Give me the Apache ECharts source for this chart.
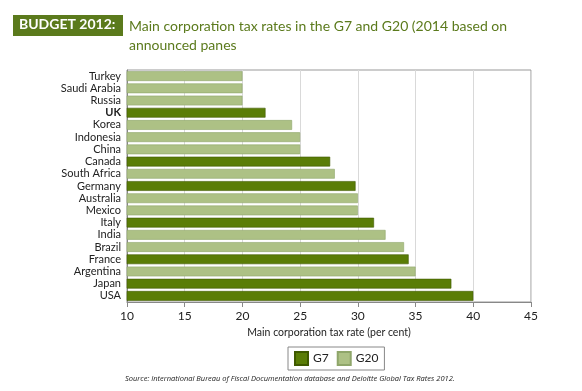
<!DOCTYPE html>
<html><head><meta charset="utf-8">
<script src="https://cdn.jsdelivr.net/npm/echarts@6/dist/echarts.min.js"></script>
<style>html,body{margin:0;padding:0;background:#fff}#c{width:582px;height:391px}</style>
</head><body><div id="c"></div>
<script>
const categories = ['Turkey','Saudi Arabia','Russia','UK','Korea','Indonesia','China','Canada','South Africa','Germany','Australia','Mexico','Italy','India','Brazil','France','Argentina','Japan','USA'];
const g7Values  = [null,null,null,22,null,null,null,27.6,null,29.8,null,null,31.4,null,null,34.4,null,38.1,40];
const g20Values = [20,20,20,null,24.3,25,25,null,28,null,30,30,null,32.4,34,null,35,null,null];
const xTicks = [10,15,20,25,30,35,40,45];
const dark = '#5a7d06', light = '#adc185', titleGreen = '#5b7a1c';
const font = 'Lato, "Open Sans", sans-serif';
const chart = echarts.init(document.getElementById('c'), null, {renderer:'canvas'});
chart.setOption({
  animation:false,
  textStyle:{fontFamily:font},
  graphic:[
    {type:'rect', shape:{x:13,y:15,width:110,height:21}, style:{fill:'#5b7a1c'}},
    {type:'text', left:19, top:17, style:{text:'BUDGET 2012:', fill:'#fff', font:'bold 14px '+font}},
    {type:'text', left:129, top:17, style:{text:'Main corporation tax rates in the G7 and G20 (2014 based on\nannounced panes', fill:titleGreen, font:'14px '+font, lineHeight:19}},
    {type:'text', left:125, top:375, style:{text:'Source: International Bureau of Fiscal Documentation database and Deloitte Global Tax Rates 2012.', fill:'#222', font:'italic 7.5px "Open Sans", sans-serif'}}
  ],
  grid:{left:127,right:51,top:70,bottom:89,show:true,borderColor:'#999',borderWidth:1},
  legend:{data:['G7','G20'],left:288,top:347,icon:'rect',itemWidth:13,itemHeight:13,itemGap:8,
    borderColor:'#888',borderWidth:1,padding:[4,6],
    textStyle:{fontSize:12,color:'#222',fontFamily:font}},
  xAxis:{type:'value',min:10,max:45,interval:5,
    name:'Main corporation tax rate (per cent)',nameLocation:'middle',nameGap:23,
    nameTextStyle:{fontSize:10.5,color:'#222'},
    axisLine:{show:true,lineStyle:{color:'#888'}},
    axisTick:{show:true,length:5,lineStyle:{color:'#888'}},
    axisLabel:{fontSize:12,color:'#222',margin:8},
    splitLine:{show:true,lineStyle:{color:'#d9d9d9'}}},
  yAxis:{type:'category',data:categories,inverse:true,
    axisLine:{show:true,lineStyle:{color:'#888'}},
    axisTick:{show:false},
    axisLabel:{fontSize:11,color:'#222',margin:6,interval:0,
      formatter:v=> v==='UK' ? '{b|UK}' : v,
      rich:{b:{fontWeight:'bold',fontSize:11,color:'#222'}}},
    splitLine:{show:false}},
  series:[
    {name:'G7',type:'bar',data:g7Values,barCategoryGap:'20%',barGap:'-100%',
      itemStyle:{color:dark,borderColor:'#3f5a00',borderWidth:0.6}},
    {name:'G20',type:'bar',data:g20Values,barCategoryGap:'20%',
      itemStyle:{color:light,borderColor:'#8fa66a',borderWidth:0.6}}
  ]
});
</script></body></html>
